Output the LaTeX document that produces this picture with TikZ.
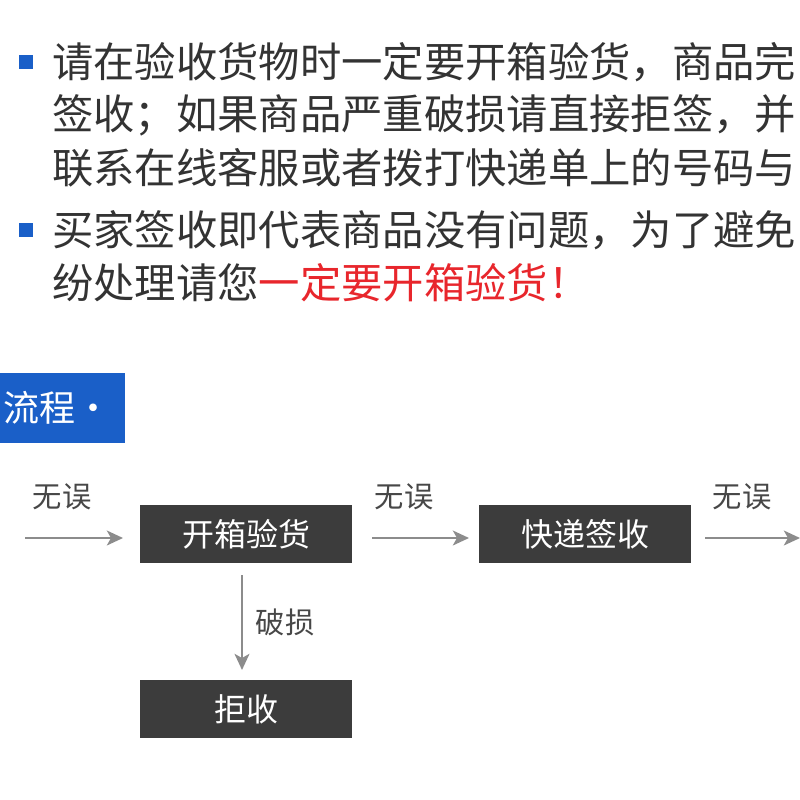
\documentclass[tikz,border=0pt]{standalone}
\usepackage{fontspec}
\setmainfont{Noto Sans CJK SC}
\usetikzlibrary{arrows.meta}
\definecolor{dbox}{HTML}{3C3C3C}
\definecolor{bblue}{HTML}{1A5FC8}
\definecolor{txt}{HTML}{333333}
\definecolor{rd}{HTML}{E8262C}
\definecolor{arr}{HTML}{8C8C8C}
\tikzset{
 line/.style={anchor=west,inner sep=0,font=\fontsize{31}{31}\selectfont,text=txt},
 bul/.style={fill=bblue,minimum size=10pt,inner sep=0},
 stepbox/.style={fill=dbox,text=white,minimum width=159pt,minimum height=44pt,inner sep=0,font=\fontsize{24}{24}\selectfont},
 flow/.style={draw=arr,line width=2.2pt,-{Stealth[length=12pt,width=11pt,inset=3pt]}},
 lab/.style={text=txt!90,font=\fontsize{22}{22}\selectfont,inner sep=0}
}
\begin{document}
\begin{tikzpicture}[x=0.75pt,y=-0.75pt]
\useasboundingbox (0,0) rectangle (800,800);
\clip (0,0) rectangle (800,800);
\fill[white] (0,0) rectangle (800,800);
\node[bul] (b1) at (26,62) {};
\node[bul] (b2) at (26,230) {};
\node[line] (l1) at (52,62) {请在验收货物时一定要开箱验货，商品完};
\node[line] (l2) at (52,115) {签收；如果商品严重破损请直接拒签，并};
\node[line] (l3) at (52,168) {联系在线客服或者拨打快递单上的号码与};
\node[line] (l4) at (52,230) {买家签收即代表商品没有问题，为了避免};
\node[line] (l5) at (52,283) {纷处理请您\textcolor{rd}{一定要开箱验货！}};
\fill[bblue] (0,373) rectangle (125,443);
\node[anchor=east,text=white,inner sep=0,font=\fontsize{27}{27}\selectfont] (t) at (112,408) {流程·};
\node[stepbox] (k) at (246,534) {开箱验货};
\node[stepbox] (q) at (585,534) {快递签收};
\node[stepbox] (j) at (246,709) {拒收};
\coordinate (s0) at (25,538);
\coordinate (e0) at (123,538);
\coordinate (s1) at (372,538);
\coordinate (e1) at (469,538);
\coordinate (s2) at (705,538);
\coordinate (e2) at (800,538);
\coordinate (s3) at (242,575);
\coordinate (e3) at (242,670);
\draw[flow] (s0) -- (e0);
\draw[flow] (s1) -- (e1);
\draw[flow] (s2) -- (e2);
\draw[flow] (s3) -- (e3);
\node[lab] (w1) at (62,497) {无误};
\node[lab] (w2) at (404,497) {无误};
\node[lab] (w3) at (742,497) {无误};
\node[lab] (p) at (285,622) {破损};
\end{tikzpicture}
\end{document}
